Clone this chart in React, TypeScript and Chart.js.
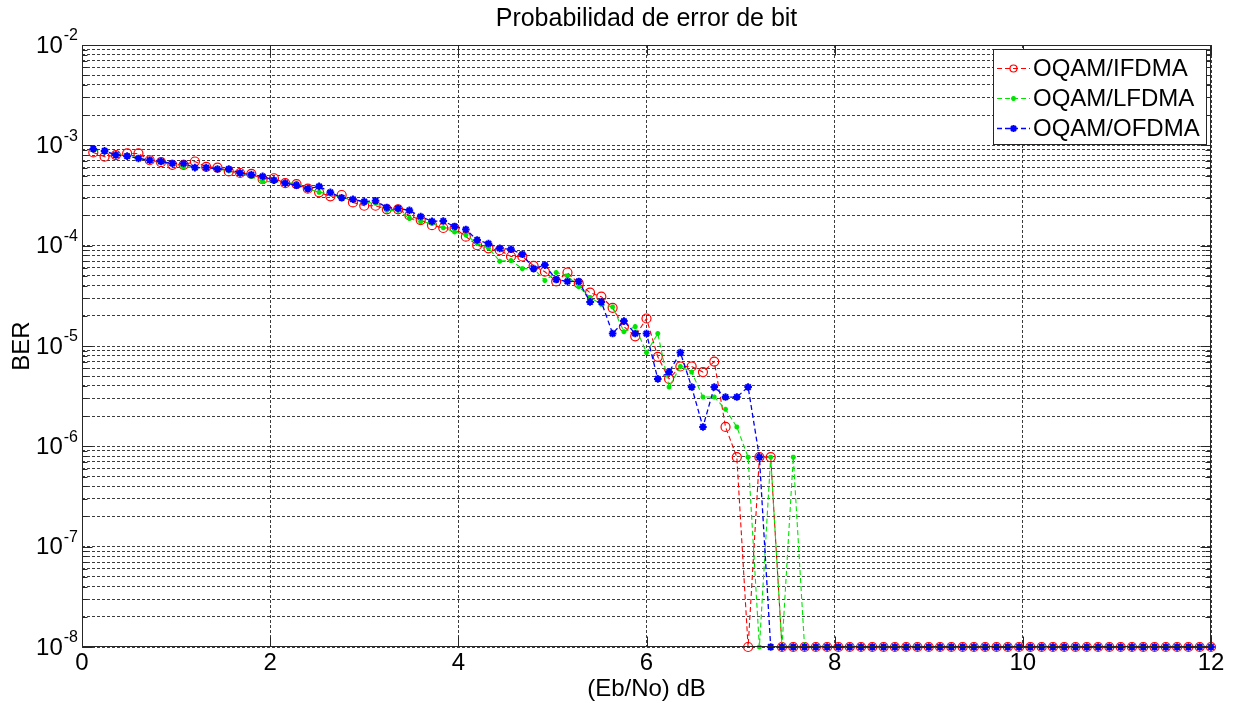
import { useEffect, useRef } from 'react';
import { Chart, registerables } from 'chart.js';

Chart.register(...registerables);

const W = 1233;
const H = 703;
const FONT = '"Liberation Sans", Arial, Helvetica, sans-serif';
const AXIS_COLOR = '#262626';

const chartTitle = 'Probabilidad de error de bit';
const xAxisTitle = '(Eb/No) dB';
const yAxisTitle = 'BER';

const seriesNames = ['OQAM/IFDMA', 'OQAM/LFDMA', 'OQAM/OFDMA'];

// Eb/No sample points (dB)
const ebNo = [
  0.12, 0.24, 0.36, 0.48, 0.6, 0.72, 0.84, 0.96, 1.08, 1.2,
  1.32, 1.44, 1.56, 1.68, 1.8, 1.92, 2.04, 2.16, 2.28, 2.4,
  2.52, 2.64, 2.76, 2.88, 3, 3.12, 3.24, 3.36, 3.48, 3.6,
  3.72, 3.84, 3.96, 4.08, 4.2, 4.32, 4.44, 4.56, 4.68, 4.8,
  4.92, 5.04, 5.16, 5.28, 5.4, 5.52, 5.64, 5.76, 5.88, 6,
  6.12, 6.24, 6.36, 6.48, 6.6, 6.72, 6.84, 6.96, 7.08, 7.2,
  7.32, 7.44, 7.56, 7.68, 7.8, 7.92, 8.04, 8.16, 8.28, 8.4,
  8.52, 8.64, 8.76, 8.88, 9, 9.12, 9.24, 9.36, 9.48, 9.6,
  9.72, 9.84, 9.96, 10.08, 10.2, 10.32, 10.44, 10.56, 10.68, 10.8,
  10.92, 11.04, 11.16, 11.28, 11.4, 11.52, 11.64, 11.76, 11.88, 12,
];

// BER, error-free runs are plotted at the 1e-8 floor
const berIfdma = [
  8.5e-4, 7.7e-4, 8.0e-4, 8.3e-4, 8.3e-4, 7.1e-4, 6.8e-4, 6.4e-4, 6.4e-4, 6.9e-4,
  6.1e-4, 6.0e-4, 5.5e-4, 5.3e-4, 5.2e-4, 4.6e-4, 4.7e-4, 4.2e-4, 4.1e-4, 3.7e-4,
  3.4e-4, 3.1e-4, 3.2e-4, 2.7e-4, 2.5e-4, 2.5e-4, 2.3e-4, 2.3e-4, 2.0e-4, 1.8e-4,
  1.6e-4, 1.5e-4, 1.5e-4, 1.23e-4, 1.01e-4, 9.4e-5, 9.0e-5, 7.8e-5, 7.8e-5, 6.3e-5,
  5.5e-5, 4.4e-5, 5.4e-5, 4.2e-5, 3.4e-5, 3.1e-5, 2.4e-5, 1.56e-5, 1.25e-5, 1.88e-5,
  7.8e-6, 4.7e-6, 6.25e-6, 6.25e-6, 5.5e-6, 7.0e-6, 1.56e-6, 7.8e-7, 1e-8, 7.8e-7,
  7.8e-7, 1e-8, 1e-8, 1e-8, 1e-8, 1e-8, 1e-8, 1e-8, 1e-8, 1e-8,
  1e-8, 1e-8, 1e-8, 1e-8, 1e-8, 1e-8, 1e-8, 1e-8, 1e-8, 1e-8,
  1e-8, 1e-8, 1e-8, 1e-8, 1e-8, 1e-8, 1e-8, 1e-8, 1e-8, 1e-8,
  1e-8, 1e-8, 1e-8, 1e-8, 1e-8, 1e-8, 1e-8, 1e-8, 1e-8, 1e-8,
];

const berLfdma = [
  9.0e-4, 8.6e-4, 8.1e-4, 7.9e-4, 7.5e-4, 7.0e-4, 6.8e-4, 6.5e-4, 6.1e-4, 6.0e-4,
  6.0e-4, 5.8e-4, 5.55e-4, 5.2e-4, 4.9e-4, 4.35e-4, 4.35e-4, 4.2e-4, 4.2e-4, 3.7e-4,
  3.4e-4, 3.3e-4, 3.0e-4, 2.85e-4, 2.7e-4, 2.65e-4, 2.25e-4, 2.25e-4, 1.87e-4, 1.73e-4,
  1.67e-4, 1.51e-4, 1.37e-4, 1.28e-4, 1.05e-4, 9.5e-5, 7.0e-5, 7.1e-5, 5.9e-5, 5.9e-5,
  4.5e-5, 5.4e-5, 5.0e-5, 3.9e-5, 3.05e-5, 2.6e-5, 2.45e-5, 1.39e-5, 1.56e-5, 8.6e-6,
  1.33e-5, 3.9e-6, 6.25e-6, 5.5e-6, 3.1e-6, 3.1e-6, 2.34e-6, 1.56e-6, 7.8e-7, 1e-8,
  7.8e-7, 1e-8, 7.8e-7, 1e-8, 1e-8, 1e-8, 1e-8, 1e-8, 1e-8, 1e-8,
  1e-8, 1e-8, 1e-8, 1e-8, 1e-8, 1e-8, 1e-8, 1e-8, 1e-8, 1e-8,
  1e-8, 1e-8, 1e-8, 1e-8, 1e-8, 1e-8, 1e-8, 1e-8, 1e-8, 1e-8,
  1e-8, 1e-8, 1e-8, 1e-8, 1e-8, 1e-8, 1e-8, 1e-8, 1e-8, 1e-8,
];

const berOfdma = [
  9.2e-4, 8.8e-4, 8.0e-4, 7.8e-4, 7.4e-4, 7.1e-4, 6.9e-4, 6.6e-4, 6.6e-4, 6.0e-4,
  6.0e-4, 5.8e-4, 5.8e-4, 5.3e-4, 5.1e-4, 4.9e-4, 4.5e-4, 4.2e-4, 4.0e-4, 3.7e-4,
  3.9e-4, 3.4e-4, 3.0e-4, 2.9e-4, 2.75e-4, 2.8e-4, 2.4e-4, 2.35e-4, 2.25e-4, 1.95e-4,
  1.75e-4, 1.76e-4, 1.55e-4, 1.45e-4, 1.14e-4, 1.05e-4, 9.4e-5, 9.2e-5, 8.2e-5, 5.9e-5,
  6.4e-5, 4.6e-5, 4.4e-5, 4.4e-5, 2.75e-5, 2.75e-5, 1.33e-5, 1.77e-5, 1.33e-5, 1.33e-5,
  4.7e-6, 5.5e-6, 8.6e-6, 3.9e-6, 1.56e-6, 3.9e-6, 3.1e-6, 3.1e-6, 3.9e-6, 7.8e-7,
  1e-8, 1e-8, 1e-8, 1e-8, 1e-8, 1e-8, 1e-8, 1e-8, 1e-8, 1e-8,
  1e-8, 1e-8, 1e-8, 1e-8, 1e-8, 1e-8, 1e-8, 1e-8, 1e-8, 1e-8,
  1e-8, 1e-8, 1e-8, 1e-8, 1e-8, 1e-8, 1e-8, 1e-8, 1e-8, 1e-8,
  1e-8, 1e-8, 1e-8, 1e-8, 1e-8, 1e-8, 1e-8, 1e-8, 1e-8, 1e-8,
];

const xTicks = [0, 2, 4, 6, 8, 10, 12];
const yDecades = [-8, -7, -6, -5, -4, -3, -2];

type Marker = 'circle' | 'star';
const seriesStyles: { color: string; marker: Marker; radius: number; markerWidth: number; lineWidth: number }[] = [
  { color: '#ff0000', marker: 'circle', radius: 4.5, markerWidth: 1.2, lineWidth: 1.1 },
  { color: '#00e600', marker: 'star', radius: 2.5, markerWidth: 1.6, lineWidth: 1.1 },
  { color: '#0000ff', marker: 'star', radius: 3.8, markerWidth: 2, lineWidth: 1.3 },
];
const DASH = [5, 3];

function drawMarker(ctx: CanvasRenderingContext2D, kind: Marker, x: number, y: number, r: number, color: string, w: number) {
  ctx.save();
  ctx.setLineDash([]);
  ctx.strokeStyle = color;
  ctx.lineWidth = w;
  ctx.beginPath();
  if (kind === 'circle') {
    ctx.arc(x, y, r, 0, Math.PI * 2);
  } else {
    ctx.moveTo(x - r, y); ctx.lineTo(x + r, y);
    ctx.moveTo(x, y - r); ctx.lineTo(x, y + r);
    const d = r * Math.SQRT1_2;
    ctx.moveTo(x - d, y - d); ctx.lineTo(x + d, y + d);
    ctx.moveTo(x - d, y + d); ctx.lineTo(x + d, y - d);
  }
  ctx.stroke();
  ctx.restore();
}

const decorations = {
  id: 'decorations',
  afterDraw(chart: any) {
    const { ctx, chartArea: a, scales } = chart;
    const xs = scales.x;
    const ys = scales.y;
    const L = Math.round(a.left) + 0.5;
    const R = Math.round(a.right) - 0.5;
    const T = Math.round(a.top) + 0.5;
    const B = Math.round(a.bottom) - 0.5;
    ctx.save();
    ctx.setLineDash([]);
    ctx.strokeStyle = AXIS_COLOR;
    ctx.lineWidth = 1;

    // inward tick marks
    ctx.beginPath();
    for (const t of ys.ticks) {
      const py = Math.round(ys.getPixelForValue(t.value)) + 0.5;
      const isMajor = Math.abs(Math.log10(t.value) - Math.round(Math.log10(t.value))) < 1e-9;
      const len = isMajor ? 10 : 5;
      ctx.moveTo(L, py); ctx.lineTo(L + len, py);
      ctx.moveTo(R, py); ctx.lineTo(R - len, py);
    }
    for (const v of xTicks) {
      const px = Math.round(xs.getPixelForValue(v)) + 0.5;
      ctx.moveTo(px, B); ctx.lineTo(px, B - 10);
      ctx.moveTo(px, T); ctx.lineTo(px, T + 10);
    }
    ctx.stroke();

    // axes box
    ctx.strokeRect(L, T, R - L, B - T);

    ctx.fillStyle = '#000';
    // x tick labels
    ctx.font = `24px ${FONT}`;
    ctx.textAlign = 'center';
    ctx.textBaseline = 'middle';
    for (const v of xTicks) {
      ctx.fillText(String(v), xs.getPixelForValue(v), a.bottom + 16);
    }

    // y tick labels as 10 with a raised exponent
    for (const e of yDecades) {
      const py = ys.getPixelForValue(Math.pow(10, e));
      const sup = String(e);
      ctx.font = `16px ${FONT}`;
      const supW = ctx.measureText(sup).width;
      const supX = a.left - 4 - supW;
      ctx.textAlign = 'left';
      ctx.fillText(sup, supX, py - 9);
      ctx.font = `24px ${FONT}`;
      ctx.textAlign = 'right';
      ctx.fillText('10', supX - 1, py + 1);
    }

    // titles
    ctx.textAlign = 'center';
    ctx.font = `25px ${FONT}`;
    ctx.fillText(chartTitle, (a.left + a.right) / 2, 19);
    ctx.font = `24px ${FONT}`;
    ctx.fillText(xAxisTitle, (a.left + a.right) / 2, 689);
    ctx.save();
    ctx.translate(22, (a.top + a.bottom) / 2);
    ctx.rotate(-Math.PI / 2);
    ctx.fillText(yAxisTitle, 0, 0);
    ctx.restore();

    // legend box
    const lx = 993.5, ly = 49.5, lw = 213, lh = 95;
    ctx.fillStyle = '#fff';
    ctx.fillRect(lx, ly, lw, lh);
    ctx.strokeStyle = AXIS_COLOR;
    ctx.strokeRect(lx, ly, lw, lh);
    chart.data.datasets.forEach((ds: any, i: number) => {
      const st = seriesStyles[i];
      const ry = 68 + i * 30;
      ctx.save();
      ctx.strokeStyle = st.color;
      ctx.lineWidth = st.lineWidth;
      ctx.setLineDash(DASH);
      ctx.beginPath();
      ctx.moveTo(997, ry + 0.5);
      ctx.lineTo(1030, ry + 0.5);
      ctx.stroke();
      ctx.restore();
      drawMarker(ctx, st.marker, 1013.5, ry + 0.5, Math.min(st.radius, 3.5), st.color, st.markerWidth);
      ctx.fillStyle = '#000';
      ctx.font = `24px ${FONT}`;
      ctx.textAlign = 'left';
      ctx.textBaseline = 'middle';
      ctx.fillText(ds.label, 1033, ry + 1);
    });
    ctx.restore();
  },
};

export default function App() {
  const ref = useRef<HTMLCanvasElement>(null);

  useEffect(() => {
    const canvas = ref.current;
    if (!canvas) return;
    const seriesValues = [berIfdma, berLfdma, berOfdma];
    const datasets = seriesValues.map((vals, i) => {
      const st = seriesStyles[i];
      return {
        label: seriesNames[i],
        data: ebNo.map((x, k) => ({ x, y: vals[k] })),
        borderColor: st.color,
        borderWidth: st.lineWidth,
        borderDash: DASH,
        backgroundColor: 'rgba(0,0,0,0)',
        pointStyle: st.marker === 'circle' ? 'circle' : 'star',
        pointRadius: st.radius,
        pointBorderWidth: st.markerWidth,
        pointBorderColor: st.color,
        pointBackgroundColor: st.marker === 'circle' ? 'rgba(0,0,0,0)' : st.color,
        tension: 0,
        fill: false,
        clip: false as const,
        order: 3 - i,
      };
    });

    const chart = new Chart(canvas, {
      type: 'line',
      data: { datasets },
      options: {
        animation: false,
        responsive: false,
        devicePixelRatio: 1,
        events: [],
        layout: { padding: { left: 82, right: 22, top: 45, bottom: 56 } },
        plugins: {
          legend: { display: false },
          title: { display: false },
          tooltip: { enabled: false },
        },
        scales: {
          x: {
            type: 'linear',
            min: 0,
            max: 12,
            ticks: { display: false, stepSize: 2 },
            grid: { color: '#3c3c3c', lineWidth: 1, drawTicks: false },
            border: { display: false, dash: [3, 2] },
            afterFit: (s: any) => { s.height = 0; },
          },
          y: {
            type: 'logarithmic',
            min: 1e-8,
            max: 1e-2,
            ticks: { display: false },
            grid: { color: '#3c3c3c', lineWidth: 1, drawTicks: false },
            border: { display: false, dash: [3, 2] },
            afterBuildTicks: (s: any) => {
              const ticks: { value: number }[] = [];
              for (const e of yDecades) {
                if (e === yDecades[yDecades.length - 1]) {
                  ticks.push({ value: Math.pow(10, e) });
                } else {
                  for (let m = 1; m <= 9; m++) ticks.push({ value: m * Math.pow(10, e) });
                }
              }
              s.ticks = ticks;
            },
            afterFit: (s: any) => { s.width = 0; },
          },
        },
      },
      plugins: [decorations],
    });
    return () => chart.destroy();
  }, []);

  return (
    <div style={{ position: 'absolute', left: 0, top: 0, width: W, height: H, background: '#fff' }}>
      <canvas ref={ref} width={W} height={H} style={{ display: 'block', width: W, height: H }} />
    </div>
  );
}
